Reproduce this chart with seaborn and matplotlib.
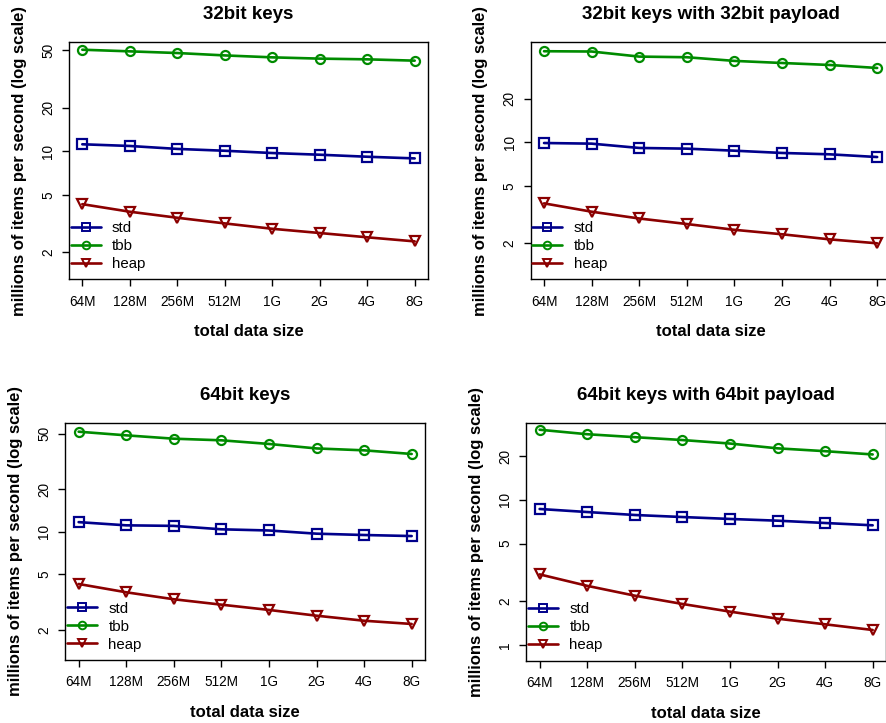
import numpy as np
import pandas as pd
import matplotlib
matplotlib.use("Agg")
import matplotlib.pyplot as plt
import seaborn as sns
from matplotlib.lines import Line2D
from matplotlib.ticker import FixedLocator, NullLocator

sns.set_theme(style="white")
plt.rcParams['font.family'] = ['Liberation Sans', 'DejaVu Sans']
plt.rcParams['text.color'] = 'black'
plt.rcParams['axes.labelcolor'] = 'black'
plt.rcParams['xtick.color'] = 'black'
plt.rcParams['ytick.color'] = 'black'

sizes = ["64M", "128M", "256M", "512M", "1G", "2G", "4G", "8G"]
series_names = ["std", "tbb", "heap"]
titles = ["32bit keys", "32bit keys with 32bit payload",
          "64bit keys", "64bit keys with 64bit payload"]

p1_std = [11.2, 10.9, 10.4, 10.1, 9.74, 9.48, 9.18, 8.94]
p1_tbb = [50.6, 49.3, 48.0, 46.2, 44.8, 43.9, 43.4, 42.5]
p1_heap = [4.31, 3.82, 3.47, 3.17, 2.91, 2.72, 2.54, 2.38]

p2_std = [9.89, 9.79, 9.14, 9.04, 8.75, 8.44, 8.26, 7.91]
p2_tbb = [42.7, 42.5, 39.2, 38.8, 36.6, 35.4, 34.3, 32.7]
p2_heap = [3.78, 3.31, 2.97, 2.72, 2.48, 2.31, 2.13, 2.00]

p3_std = [11.7, 11.1, 11.0, 10.4, 10.2, 9.68, 9.47, 9.31]
p3_tbb = [51.6, 48.6, 46.0, 44.8, 42.2, 39.2, 38.0, 35.8]
p3_heap = [4.24, 3.70, 3.30, 3.02, 2.77, 2.52, 2.32, 2.20]

p4_std = [8.67, 8.26, 7.88, 7.63, 7.40, 7.20, 6.94, 6.69]
p4_tbb = [30.5, 28.4, 27.1, 25.9, 24.5, 22.7, 21.7, 20.6]
p4_heap = [3.07, 2.56, 2.19, 1.92, 1.70, 1.52, 1.39, 1.27]

yticks_list = [[2, 5, 10, 20, 50], [2, 5, 10, 20],
               [2, 5, 10, 20, 50], [1, 2, 5, 10, 20]]
ylims = [(1.30, 57.5), (1.127, 49.7), (1.218, 59.8), (0.78, 34.1)]

colors = {"std": "#00008B", "tbb": "#008B00", "heap": "#8B0000"}
marker_map = {"std": "s", "tbb": "o", "heap": "v"}

W, H = 887, 723
rects_px = [(69, 41.7, 428, 279.3), (530.7, 41.7, 890.5, 279.3),
            (65.3, 422.7, 425, 660), (526.3, 422.7, 886, 660.7)]

data = [(p1_std, p1_tbb, p1_heap), (p2_std, p2_tbb, p2_heap),
        (p3_std, p3_tbb, p3_heap), (p4_std, p4_tbb, p4_heap)]

fig = plt.figure(figsize=(W / 100, H / 100), dpi=100)

for i in range(4):
    l, t, r, b = rects_px[i]
    ax = fig.add_axes([l / W, 1 - b / H, (r - l) / W, (b - t) / H])
    std, tbb, heap = data[i]
    n = len(sizes)
    df = pd.DataFrame({
        "pos": np.tile(np.arange(n), 3),
        "value": np.concatenate([std, tbb, heap]),
        "series": np.repeat(series_names, n),
    })
    ax.set_yscale("log")
    sns.lineplot(data=df, x="pos", y="value", hue="series", style="series",
                 hue_order=series_names, style_order=series_names,
                 palette=colors, markers=marker_map, dashes=False,
                 linewidth=1.9, markersize=6.5, legend=False, ax=ax,
                 errorbar=None)
    for ln in ax.lines:
        ln.set_markerfacecolor("none")
        ln.set_markeredgecolor(ln.get_color())
        ln.set_markeredgewidth(1.6)

    ax.set_xlim(-0.28, n - 1 + 0.28)
    ax.set_ylim(*ylims[i])
    ax.set_xticks(np.arange(n))
    ax.set_xticklabels(sizes)
    ax.yaxis.set_major_locator(FixedLocator(yticks_list[i]))
    ax.yaxis.set_minor_locator(NullLocator())
    ax.set_yticklabels([str(v) for v in yticks_list[i]], rotation=90, va="center")
    ax.tick_params(axis="both", which="major", direction="out", length=5,
                   width=1, color="black", labelsize=9.8, labelcolor="black",
                   bottom=True, left=True, top=False, right=False)
    ax.tick_params(axis="x", pad=6)
    ax.tick_params(axis="y", pad=5)
    for sp in ax.spines.values():
        sp.set_visible(True)
        sp.set_color("black")
        sp.set_linewidth(1.0)

    ax.set_title(titles[i], fontsize=13.5, fontweight="bold", pad=16,
                 color="black")
    ax.set_xlabel("total data size", fontsize=12, fontweight="bold")
    ax.set_ylabel("millions of items per second (log scale)", fontsize=12,
                  fontweight="bold")
    ax.xaxis.set_label_coords(0.5, -0.19)
    ax.yaxis.set_label_coords(-0.118, 0.5)
    ax.grid(False)

    handles = [Line2D([0], [0], color=colors[s], marker=marker_map[s],
                      markerfacecolor="none", markeredgecolor=colors[s],
                      markeredgewidth=1.4, markersize=5.5, linewidth=1.9)
               for s in series_names]
    ax.legend(handles, series_names, loc="lower left",
              bbox_to_anchor=(0.005, 0.035), frameon=False, fontsize=10.8,
              handlelength=2.0, handletextpad=0.75, labelspacing=0.27,
              borderpad=0, borderaxespad=0)

fig.savefig("out.png", dpi=100, facecolor="white")
